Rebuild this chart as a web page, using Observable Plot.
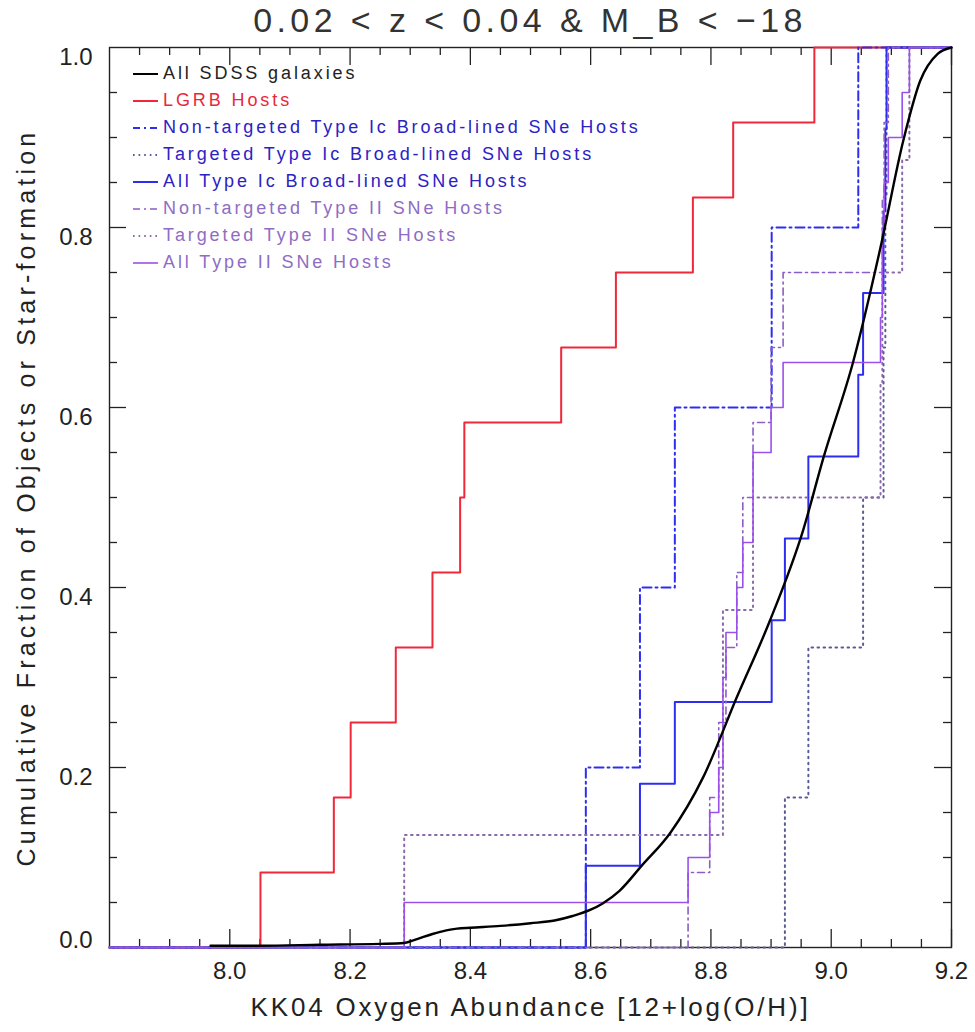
<!DOCTYPE html>
<html>
<head>
<meta charset="utf-8">
<script src="https://cdn.jsdelivr.net/npm/d3@7"></script>
<script src="https://cdn.jsdelivr.net/npm/@observablehq/plot@0.6"></script>
<style>
  body { margin: 0; background: #fff; }
  #wrap { position: relative; width: 975px; height: 1032px; font-family: "Liberation Sans", Arial, sans-serif; }
  #title { position: absolute; left: 109px; width: 842px; top: 0px; text-align: center; font-size: 34px; line-height: 40px; letter-spacing: 4.4px; color: #333; }
  #legend { position: absolute; left: 130px; top: 60px; font-size: 18px; letter-spacing: 2.9px; }
  #legend .row { height: 27px; display: flex; align-items: center; white-space: nowrap; }
  #legend svg { display: block; }
</style>
</head>
<body>
<div id="wrap">
  <div id="chart"></div>
  <div id="title"></div>
  <div id="legend"></div>
</div>
<script>
// ---------------- data ----------------
const titleText = "0.02 < z < 0.04 & M_B < \u221218";
const xLabel = "KK04 Oxygen Abundance [12+log(O/H)]";
const yLabel = "Cumulative Fraction of Objects or Star-formation";

const xDomain = [7.8, 9.2];
const yDomain = [0, 1];
const xMajorTicks = [8.0, 8.2, 8.4, 8.6, 8.8, 9.0, 9.2];
const xMinorTicks = [7.85, 7.9, 7.95, 8.05, 8.1, 8.15, 8.25, 8.3, 8.35, 8.45, 8.5, 8.55, 8.65, 8.7, 8.75, 8.85, 8.9, 8.95, 9.05, 9.1, 9.15];
const yMajorTicks = [0.2, 0.4, 0.6, 0.8];
const yMinorTicks = [0.05, 0.1, 0.15, 0.25, 0.3, 0.35, 0.45, 0.5, 0.55, 0.65, 0.7, 0.75, 0.85, 0.9, 0.95];
const yTickLabels = [0.2, 0.4, 0.6, 0.8, 1.0];
const yZeroLabel = [0.0];

// All SDSS galaxies (smooth cumulative curve)
const sdssX = [7.968, 8.05, 8.15, 8.25, 8.29, 8.31, 8.337, 8.36, 8.378, 8.40, 8.45, 8.50, 8.54, 8.57, 8.60, 8.62, 8.648, 8.685, 8.732, 8.787, 8.843, 8.898, 8.953, 8.987, 9.037, 9.082, 9.12, 9.148, 9.177, 9.20];
const sdssY = [0.002, 0.002, 0.003, 0.004, 0.005, 0.009, 0.015, 0.019, 0.021, 0.022, 0.024, 0.027, 0.030, 0.035, 0.042, 0.049, 0.063, 0.091, 0.127, 0.189, 0.278, 0.363, 0.463, 0.544, 0.652, 0.778, 0.897, 0.963, 0.993, 1.0];

// host oxygen abundances, sorted (each sample's cumulative step)
const lgrbHosts      = [8.051, 8.173, 8.201, 8.276, 8.337, 8.383, 8.390, 8.551, 8.642, 8.770, 8.837, 8.972];
const icblNonTarget  = [8.592, 8.682, 8.740, 8.901, 9.045];
const icblTarget     = [8.923, 8.962, 9.053, 9.087, 9.090, 9.092];
const icblAll        = [8.592, 8.682, 8.740, 8.901, 8.923, 8.962, 9.045, 9.053, 9.087, 9.090, 9.092];
const iiNonTarget    = [8.762, 8.798, 8.813, 8.825, 8.843, 8.853, 8.870, 8.900, 8.920, 9.085, 9.088, 9.095];
const iiTarget       = [8.290, 8.820, 8.820, 8.870, 9.082, 9.085, 9.118, 9.130];
const iiAll          = [8.290, 8.762, 8.798, 8.813, 8.820, 8.820, 8.825, 8.843, 8.853, 8.870, 8.870, 8.900, 8.920, 9.082, 9.085, 9.085, 9.088, 9.095, 9.118, 9.130];

const RED = "#f0283a", BLUE = "#2e2ef0", PURPLE = "#9b50ea";

const series = [
  {label: "LGRB Hosts", values: lgrbHosts, stroke: RED, width: 2, dash: null, text: "#e8283a"},
  {label: "Non-targeted Type Ic Broad-lined SNe Hosts", values: icblNonTarget, stroke: BLUE, width: 2, dash: "9,4,2,4", text: "#2c22c4"},
  {label: "Targeted Type Ic Broad-lined SNe Hosts", values: icblTarget, stroke: "#5a5a96", width: 2, dash: "1.6,4.4", text: "#2c22c4"},
  {label: "All Type Ic Broad-lined SNe Hosts", values: icblAll, stroke: BLUE, width: 2, dash: null, text: "#2c22c4"},
  {label: "Non-targeted Type II SNe Hosts", values: iiNonTarget, stroke: "#8c5cc8", width: 1.6, dash: "7,4,2,4", text: "#8f6cc4"},
  {label: "Targeted Type II SNe Hosts", values: iiTarget, stroke: "#8a6aaa", width: 2, dash: "1.6,4.4", text: "#8f6cc4"},
  {label: "All Type II SNe Hosts", values: iiAll, stroke: PURPLE, width: 1.6, dash: null, text: "#8f6cc4"}
];

function cdf(values) {
  const n = values.length;
  const pts = [{x: xDomain[0], y: 0}];
  values.forEach((v, i) => pts.push({x: v, y: (i + 1) / n}));
  pts.push({x: xDomain[1], y: 1});
  return pts;
}

const sdss = sdssX.map((x, i) => ({x, y: sdssY[i]}));

const W = 975, H = 1032, mT = 47, mR = 24, mB = 85, mL = 109;
const fw = W - mL - mR, fh = H - mT - mB;
const tick = "#222";

const marks = [
  Plot.frame({stroke: tick, strokeWidth: 1.4}),
  // inward ticks on all four sides
  Plot.ruleX(xMajorTicks, {x: d => d, insetTop: fh - 18, stroke: tick, strokeWidth: 1.3}),
  Plot.ruleX(xMajorTicks, {x: d => d, insetBottom: fh - 18, stroke: tick, strokeWidth: 1.3}),
  Plot.ruleX(xMinorTicks, {x: d => d, insetTop: fh - 8, stroke: tick, strokeWidth: 1.3}),
  Plot.ruleX(xMinorTicks, {x: d => d, insetBottom: fh - 8, stroke: tick, strokeWidth: 1.3}),
  Plot.ruleY(yMajorTicks, {y: d => d, insetRight: fw - 17, stroke: tick, strokeWidth: 1.3}),
  Plot.ruleY(yMajorTicks, {y: d => d, insetLeft: fw - 17, stroke: tick, strokeWidth: 1.3}),
  Plot.ruleY(yMinorTicks, {y: d => d, insetRight: fw - 8, stroke: tick, strokeWidth: 1.3}),
  Plot.ruleY(yMinorTicks, {y: d => d, insetLeft: fw - 8, stroke: tick, strokeWidth: 1.3}),
  Plot.axisX(xMajorTicks, {tickSize: 0, tickPadding: 14, tickFormat: ".1f", fontSize: 24, label: null, fill: "#222"}),
  Plot.axisY(yTickLabels, {tickSize: 0, tickPadding: 17, tickFormat: ".1f", fontSize: 24, dy: 10, label: null, fill: "#222"}),
  Plot.axisY(yZeroLabel, {tickSize: 0, tickPadding: 17, tickFormat: ".1f", fontSize: 24, dy: -7, label: null, fill: "#222"}),
  Plot.text([xLabel], {text: d => d, frameAnchor: "bottom", dy: 68, fontSize: 26, fill: "#222"}),
  Plot.text([yLabel], {text: d => d, frameAnchor: "left", textAnchor: "middle", dx: -83, rotate: -90, fontSize: 25, fill: "#222"})
];
// step lines
for (const s of series) {
  marks.push(Plot.line(cdf(s.values), {x: "x", y: "y", curve: "step-after", stroke: s.stroke, strokeWidth: s.width, strokeDasharray: s.dash}));
}
marks.push(Plot.line(sdss, {x: "x", y: "y", curve: "monotone-x", stroke: "#000", strokeWidth: 2.4}));

const chart = Plot.plot({
  width: W, height: H,
  marginTop: mT, marginRight: mR, marginBottom: mB, marginLeft: mL,
  x: {domain: xDomain, label: null},
  y: {domain: yDomain, label: null},
  style: {fontFamily: "Liberation Sans, Arial, sans-serif", fontSize: "24px", background: "white", color: "#222"},
  marks
});
document.getElementById("chart").appendChild(chart);

d3.select(chart).selectAll("text").each(function() {
  const t = this.textContent;
  if (t === xLabel) this.style.letterSpacing = "2.8px";
  else if (t === yLabel) this.style.letterSpacing = "4.2px";
});

document.getElementById("title").textContent = titleText;

// legend
const legendRows = [{label: "All SDSS galaxies", stroke: "#000", width: 2, dash: null, text: "#222"}, ...series];
const legend = d3.select("#legend");
for (const r of legendRows) {
  const row = legend.append("div").attr("class", "row");
  const sv = row.append("svg").attr("width", 33).attr("height", 12);
  sv.append("line").attr("x1", 3).attr("x2", 28).attr("y1", 6).attr("y2", 6)
    .attr("stroke", r.stroke).attr("stroke-width", r.width)
    .attr("stroke-dasharray", r.dash === null ? null : (r.dash.startsWith("1.6") ? "1.6,4" : "7,4,2,4"));
  row.append("span").style("color", r.text).text(r.label);
}
</script>
</body>
</html>
